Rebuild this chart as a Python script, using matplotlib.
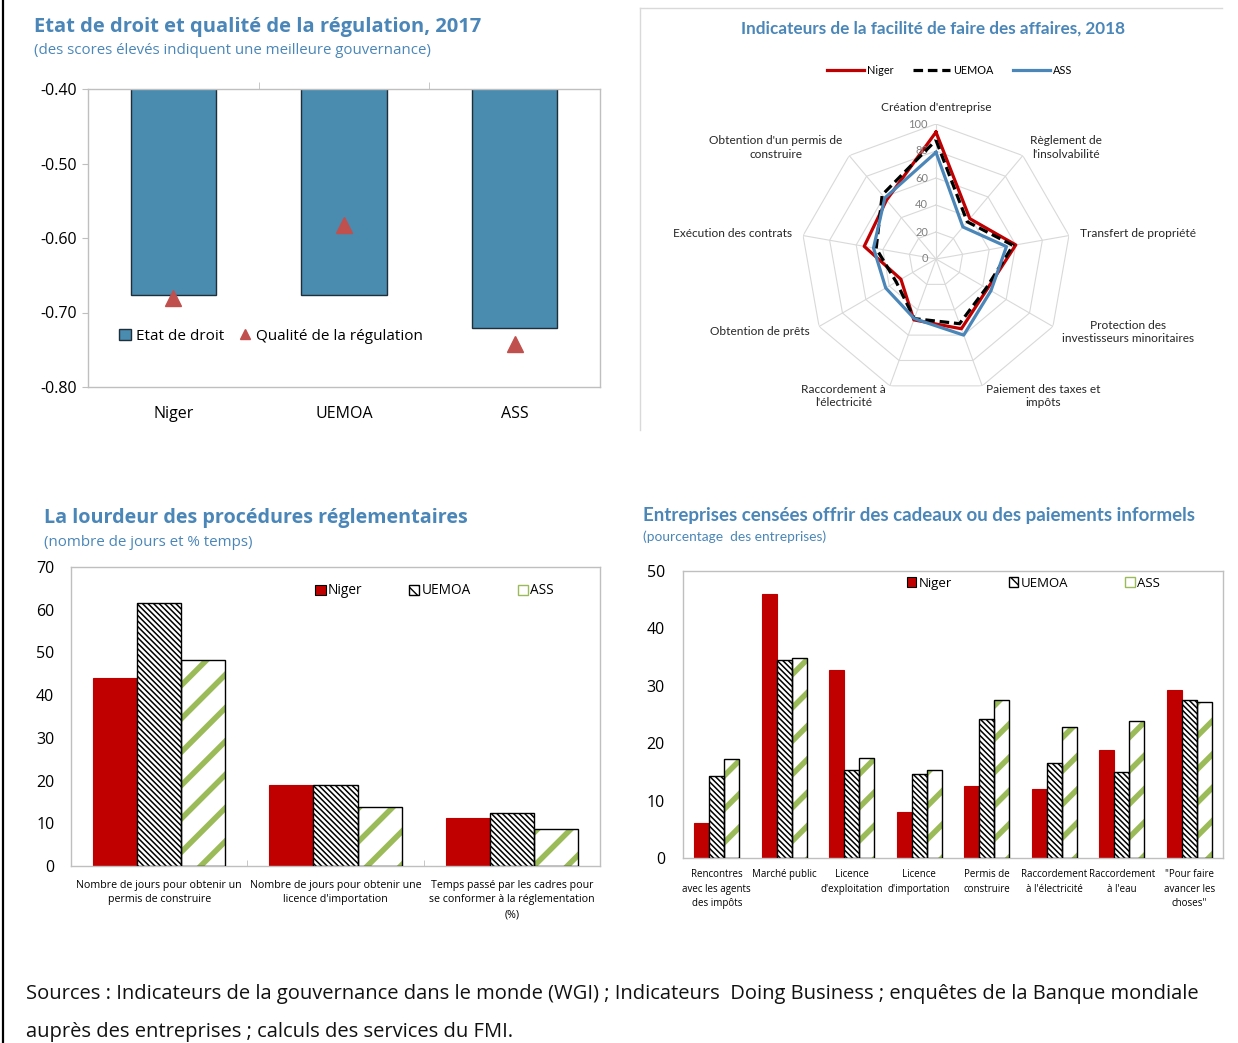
import matplotlib
matplotlib.use('Agg')
import matplotlib.pyplot as plt
import numpy as np
from matplotlib.patches import Patch
from matplotlib.lines import Line2D
import matplotlib.transforms as mtransforms

# ---------------- data ----------------
# Chart 1: Etat de droit et qualité de la régulation, 2017
gov_categories = ['Niger', 'UEMOA', 'ASS']
etat_de_droit = [-0.676, -0.677, -0.721]
qualite_regulation = [-0.680, -0.582, -0.742]
gov_yticks = [-0.80, -0.70, -0.60, -0.50, -0.40]

# Chart 2: Doing Business 2018 (radar)
db_categories = ["Création d'entreprise", "Règlement de\nl'insolvabilité",
                 "Transfert de propriété",
                 "Protection des\ninvestisseurs minoritaires",
                 "Paiement des taxes et\nimpôts",
                 "Raccordement à\nl'électricité", "Obtention de prêts",
                 "Exécution des contrats",
                 "Obtention d'un permis de\nconstruire"]
db_niger = [94, 39, 60, 44, 55, 48, 30, 54, 57]
db_uemoa = [88, 36, 58, 43, 51, 47, 34, 45, 62]
db_ass = [79, 31, 53, 47, 60, 47, 43, 47, 59]
db_rings = [0, 20, 40, 60, 80, 100]

# Chart 3: La lourdeur des procédures réglementaires
proc_categories = ["Nombre de jours pour obtenir un\npermis de construire",
                   "Nombre de jours pour obtenir une\nlicence d'importation",
                   "Temps passé par les cadres pour\nse conformer à la réglementation\n(%)"]
proc_niger = [44.0, 18.9, 11.3]
proc_uemoa = [61.6, 18.9, 12.3]
proc_ass = [48.2, 13.7, 8.6]
proc_yticks = [0, 10, 20, 30, 40, 50, 60, 70]

# Chart 4: Entreprises censées offrir des cadeaux ou paiements informels
gift_categories = ["Rencontres\navec les agents\ndes impôts", "Marché public",
                   "Licence\nd'exploitation", "Licence\nd'importation",
                   "Permis de\nconstruire", "Raccordement\nà l'électricité",
                   "Raccordement\nà l'eau", "\"Pour faire\navancer les\nchoses\""]
gift_niger = [6.1, 46.0, 32.8, 8.0, 12.5, 12.0, 18.8, 29.3]
gift_uemoa = [14.2, 34.5, 15.4, 14.6, 24.3, 16.6, 14.9, 27.5]
gift_ass = [17.3, 34.8, 17.5, 15.4, 27.5, 22.8, 23.9, 27.2]
gift_yticks = [0, 10, 20, 30, 40, 50]

series_names = ['Niger', 'UEMOA', 'ASS']

# ---------------- styles ----------------
SEGOE = ['Open Sans', 'DejaVu Sans']
CALIBRI = ['Lato', 'DejaVu Sans']
TITLE_C = '#4A86B8'
SPINE_C = '#BFBFBF'
RED = '#C00000'
GREEN = '#9BBB59'

W, H = 1238, 1043
DPI = 100
fig = plt.figure(figsize=(W / DPI, H / DPI), dpi=DPI)
fig.patch.set_facecolor('white')


def px_axes(l, t, r, b, **kw):
    return fig.add_axes([l / W, 1 - b / H, (r - l) / W, (b - t) / H], **kw)


def ftxt(x, y, s, **kw):
    kw.setdefault('va', 'center')
    return fig.text(x / W, 1 - y / H, s, **kw)


def style_box(ax):
    for s in ax.spines.values():
        s.set_color(SPINE_C)
        s.set_linewidth(1.0)


# ================= Chart 1 =================
ftxt(34, 27, "Etat de droit et qualité de la régulation, 2017", fontsize=14.5,
     fontweight='bold', color=TITLE_C, family=SEGOE)
ftxt(34, 50, "(des scores élevés indiquent une meilleure gouvernance)",
     fontsize=10.8, color=TITLE_C, family=SEGOE)

ax1 = px_axes(88, 89, 600, 387)
x1 = np.arange(len(gov_categories))
bar_c = '#4A8BB0'
ax1.bar(x1, etat_de_droit, width=0.5, color=bar_c, edgecolor='#1F2F3A',
        linewidth=1.0)
ax1.plot(x1, qualite_regulation, linestyle='none', marker='^', markersize=11,
         color='#C0504D')
ax1.set_ylim(-0.80, -0.40)
ax1.set_xlim(-0.5, 2.5)
ax1.set_yticks(gov_yticks)
ax1.set_yticklabels([f"{v:.2f}" for v in gov_yticks], family=SEGOE,
                    fontsize=11.5)
ax1.set_xticks(x1)
ax1.set_xticklabels(gov_categories, family=SEGOE, fontsize=11.5)
ax1.tick_params(axis='x', length=0, pad=14)
ax1.tick_params(axis='y', length=4, color=SPINE_C, pad=4)
ax1.set_xticks([0.5, 1.5], minor=True)
ax1.tick_params(axis='x', which='minor', top=True, bottom=False, length=5,
                color=SPINE_C, direction='out')
style_box(ax1)
h1 = [Patch(facecolor=bar_c, edgecolor='#1F2F3A', linewidth=1.0),
      Line2D([], [], linestyle='none', marker='^', markersize=7,
             color='#C0504D')]
ax1.legend(h1, ['Etat de droit', 'Qualité de la régulation'], ncol=2,
           loc='center left', bbox_to_anchor=(0.06, 0.17), frameon=False,
           prop={'family': SEGOE, 'size': 11}, handlelength=0.8,
           handleheight=0.8, handletextpad=0.3, columnspacing=1.0,
           borderpad=0, borderaxespad=0)

# ================= Chart 2 (radar) =================
fig.add_artist(Line2D([640 / W, 1222 / W], [1 - 8 / H, 1 - 8 / H],
                      color='#D9D9D9', lw=1))
fig.add_artist(Line2D([640 / W, 640 / W], [1 - 8 / H, 1 - 430 / H],
                      color='#D9D9D9', lw=1))
ftxt(933, 29, "Indicateurs de la facilité de faire des affaires, 2018",
     ha='center', fontsize=12.3, fontweight='bold', color=TITLE_C,
     family=CALIBRI)

ax2 = px_axes(801, 124, 1071, 394, projection='polar')
ax2.set_theta_zero_location('N')
ax2.set_theta_direction(-1)
ax2.set_ylim(0, 100)
ax2.grid(False)
ax2.spines['polar'].set_visible(False)
ax2.set_xticks([])
ax2.set_yticks([])
ax2.patch.set_alpha(0)
n = len(db_categories)
angles = np.arange(n) * 2 * np.pi / n
ang_c = np.append(angles, angles[0])
for r in db_rings[1:]:
    ax2.plot(ang_c, [r] * (n + 1), color='#D9D9D9', lw=0.8, zorder=1)
for a in angles:
    ax2.plot([a, a], [0, db_rings[-1]], color='#D9D9D9', lw=0.8, zorder=1)


def closed(v):
    return list(v) + [v[0]]


ASS_C = '#4A86B8'
ax2.plot(ang_c, closed(db_niger), color=RED, lw=2.3, zorder=3)
ax2.plot(ang_c, closed(db_uemoa), color='black', lw=2.3, ls=(0, (3, 1.5)),
         zorder=4)
ax2.plot(ang_c, closed(db_ass), color=ASS_C, lw=2.3, zorder=5)

off = mtransforms.offset_copy(ax2.transData, fig=fig, x=-8, y=0, units='dots')
for r in db_rings:
    ax2.text(0, r, str(r), transform=off, ha='right', va='center',
             color='#808080', fontsize=8, family=CALIBRI)
for a, lab in zip(angles, db_categories):
    s = np.sin(a)
    if abs(s) < 0.1:
        ha, va = 'center', 'bottom'
    elif s > 0:
        ha, va = 'left', 'center'
    else:
        ha, va = 'right', 'center'
    ax2.text(a, 108, lab, ha=ha, va=va, multialignment='center',
             fontsize=8.6, family=CALIBRI, color='#262626',
             linespacing=1.3)

h2 = [Line2D([], [], color=RED, lw=2.3),
      Line2D([], [], color='black', lw=2.3, ls=(0, (3, 1.5))),
      Line2D([], [], color=ASS_C, lw=2.3)]
fig.legend(h2, series_names, ncol=3, loc='center',
           bbox_to_anchor=(950 / W, 1 - 70 / H), frameon=False,
           prop={'family': CALIBRI, 'size': 7.8}, handlelength=3.4,
           handletextpad=0.3, columnspacing=1.8, borderpad=0)

# ================= bar helpers =================


def hatched_bars(ax, x, vals, width, kind):
    if kind == 'niger':
        ax.bar(x, vals, width=width, color=RED, edgecolor=RED, linewidth=0.8,
               zorder=2)
    elif kind == 'uemoa':
        with plt.rc_context({'hatch.linewidth': 1.1}):
            ax.bar(x, vals, width=width, facecolor='white', edgecolor='black',
                   hatch='\\' * 6, linewidth=0, zorder=2)
        ax.bar(x, vals, width=width, fill=False, edgecolor='black',
               linewidth=1.0, zorder=3)
    else:
        with plt.rc_context({'hatch.linewidth': 4.0}):
            ax.bar(x, vals, width=width, facecolor='white', edgecolor=GREEN,
                   hatch='/', linewidth=0, zorder=2)
        ax.bar(x, vals, width=width, fill=False, edgecolor='black',
               linewidth=1.0, zorder=3)


def legend_handles():
    with plt.rc_context({'hatch.linewidth': 1.0}):
        hu = Patch(facecolor='white', edgecolor='black', hatch='\\\\\\')
    with plt.rc_context({'hatch.linewidth': 1.5}):
        ha_ = Patch(facecolor='white', edgecolor=GREEN, hatch='/')
    return [Patch(facecolor=RED, edgecolor='black', linewidth=0.8), hu, ha_]


# ================= Chart 3 =================
ftxt(44, 518, "La lourdeur des procédures réglementaires", fontsize=14.2,
     fontweight='bold', color=TITLE_C, family=SEGOE)
ftxt(44, 543, "(nombre de jours et % temps)", fontsize=10.9, color=TITLE_C,
     family=SEGOE)
ax3 = px_axes(71, 567, 600, 866)
x3 = np.arange(len(proc_categories))
w3 = 0.25
hatched_bars(ax3, x3 - w3, proc_niger, w3, 'niger')
hatched_bars(ax3, x3, proc_uemoa, w3, 'uemoa')
hatched_bars(ax3, x3 + w3, proc_ass, w3, 'ass')
ax3.set_xlim(-0.5, 2.5)
ax3.set_ylim(0, 70)
ax3.set_yticks(proc_yticks)
ax3.set_yticklabels([str(v) for v in proc_yticks], family=SEGOE, fontsize=11.5)
ax3.set_xticks(x3)
ax3.set_xticklabels(proc_categories, family=SEGOE, fontsize=7.7,
                    linespacing=1.45, va='top')
ax3.tick_params(axis='x', length=0, pad=10)
ax3.tick_params(axis='y', length=0, pad=12)
ax3.set_xticks([0.5, 1.5], minor=True)
ax3.tick_params(axis='x', which='minor', length=4, color=SPINE_C,
                direction='in')
style_box(ax3)
ax3.legend(legend_handles(), series_names, ncol=3, loc='center left',
           bbox_to_anchor=(0.462, 0.92), frameon=False,
           prop={'family': SEGOE, 'size': 9.8}, handlelength=0.75,
           handleheight=0.75, handletextpad=0.15, columnspacing=3.45,
           borderpad=0, borderaxespad=0)

# ================= Chart 4 =================
ftxt(643, 516, "Entreprises censées offrir des cadeaux ou des paiements informels",
     fontsize=13.5, fontweight='bold', color=TITLE_C, family=CALIBRI)
ftxt(643, 537, "(pourcentage  des entreprises)", fontsize=9.9, color=TITLE_C,
     family=CALIBRI)
ax4 = px_axes(683, 571, 1223, 858)
x4 = np.arange(len(gift_categories))
w4 = 0.222
hatched_bars(ax4, x4 - w4, gift_niger, w4, 'niger')
hatched_bars(ax4, x4, gift_uemoa, w4, 'uemoa')
hatched_bars(ax4, x4 + w4, gift_ass, w4, 'ass')
ax4.set_xlim(-0.5, 7.5)
ax4.set_ylim(0, 50)
ax4.set_yticks(gift_yticks)
ax4.set_yticklabels([str(v) for v in gift_yticks], family=SEGOE, fontsize=11.5)
ax4.set_xticks(x4)
ax4.set_xticklabels(gift_categories, family=SEGOE, fontsize=7,
                    linespacing=1.45, va='top')
ax4.tick_params(axis='x', length=0, pad=8)
ax4.tick_params(axis='y', length=0, pad=13)
style_box(ax4)
ax4.legend(legend_handles(), series_names, ncol=3, loc='center left',
           bbox_to_anchor=(0.414, 0.958), frameon=False,
           prop={'family': SEGOE, 'size': 9.5}, handlelength=0.75,
           handleheight=0.75, handletextpad=0.15, columnspacing=4.3,
           borderpad=0, borderaxespad=0)

# ================= Sources & frame =================
ftxt(26, 994, "Sources : Indicateurs de la gouvernance dans le monde (WGI) ; "
     "Indicateurs  Doing Business ; enquêtes de la Banque mondiale",
     fontsize=14.5, family=SEGOE, color='#111111')
ftxt(26, 1032, "auprès des entreprises ; calculs des services du FMI.",
     fontsize=14.5, family=SEGOE, color='#111111')
fig.add_artist(Line2D([3 / W, 3 / W], [0, 1], color='black', lw=1.6))

fig.savefig('out.png', dpi=DPI, facecolor='white')
